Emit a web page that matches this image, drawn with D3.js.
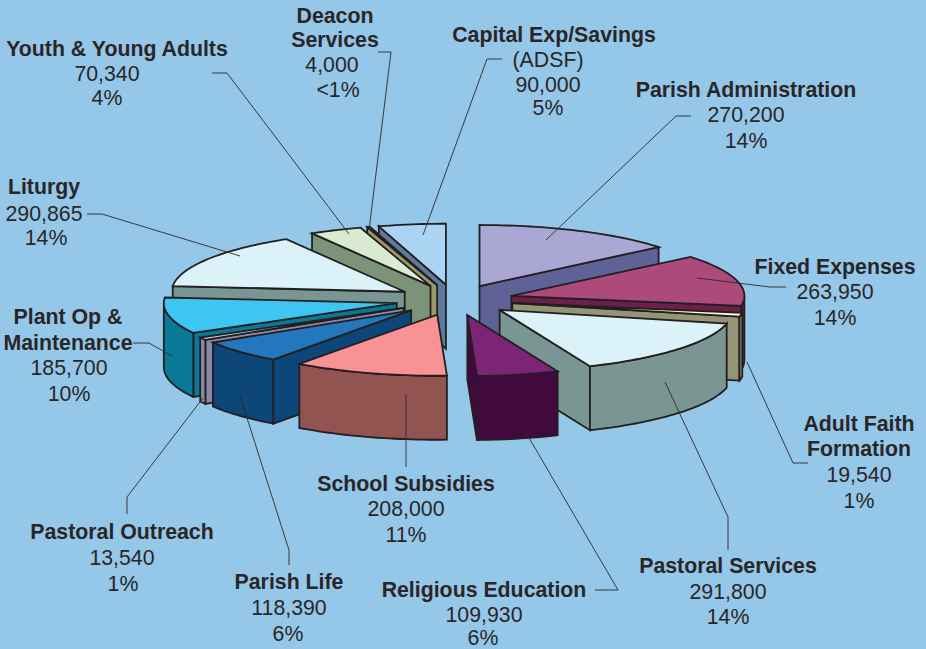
<!DOCTYPE html>
<html lang="en">
<head>
    <meta charset="UTF-8">
    <title>Parish budget</title>
    <script src="https://d3js.org/d3.v7.min.js"></script>
    <style>
        html, body { margin: 0; padding: 0; background: #94c7e8; }
        svg { display: block; }
        .face { stroke: #231f20; stroke-width: 1.8px; stroke-linejoin: miter; }
        .leader { fill: none; stroke: #2d2a2b; stroke-width: 0.9px; }
        text { font-family: "Liberation Sans", Arial, sans-serif; font-size: 21.3px; fill: #2a2627; text-anchor: middle; }
        text.name { font-weight: bold; }
    </style>
</head>
<body>
    <div id="chart"></div>

    <script>
        // clockwise from 12 o'clock
        const categories = ["Parish Administration", "Fixed Expenses", "Adult Faith Formation", "Pastoral Services",
            "Religious Education", "School Subsidies", "Parish Life", "Pastoral Outreach", "Plant Op & Maintenance",
            "Liturgy", "Youth & Young Adults", "Deacon Services", "Capital Exp/Savings"];
        const values = [270200, 263950, 19540, 291800, 109930, 208000, 118390, 13540, 185700, 290865, 70340, 4000, 90000];
        const percents = ["14%", "14%", "1%", "14%", "6%", "11%", "6%", "1%", "10%", "14%", "4%", "<1%", "5%"];

        const topColors = ["#aaa7d4", "#ac4a7b", "#fdf8d6", "#dbf2f9", "#7d2477", "#f89294", "#2277bd", "#cfcde4", "#3dc6f1", "#dbf2f9", "#d8ebd0", "#efeccb", "#abd3f2"];
        const wallColors = ["#5f6296", "#6b2048", "#949476", "#7a9692", "#42093f", "#925450", "#0d4779", "#8b8aa8", "#087a96", "#7a9692", "#7c9378", "#9b9a6a", "#5f7b9c"];

        // painter's order, back slices first
        const drawOrder = [12, 11, 10, 9, 8, 7, 6, 5, 0, 1, 2, 3, 4];

        // name lines, then value and percent; each line has its own centre x and baseline
        const nameLines = [["Parish Administration"], ["Fixed Expenses"], ["Adult Faith", "Formation"], ["Pastoral Services"],
            ["Religious Education"], ["School Subsidies"], ["Parish Life"], ["Pastoral Outreach"], ["Plant Op &", "Maintenance"],
            ["Liturgy"], ["Youth & Young Adults"], ["Deacon", "Services"], ["Capital Exp/Savings"]];
        const noteLines = { 12: "(ADSF)" };
        const labelPos = [
            [[746, 97], [746, 122], [746, 148]],
            [[835, 274], [835, 299], [835, 325]],
            [[859, 431], [859, 456], [859, 482], [859, 508]],
            [[728, 573], [728, 599], [728, 624]],
            [[484, 597], [484, 622], [483, 645]],
            [[406, 491], [406, 516], [406, 542]],
            [[289, 589], [289, 615], [288, 641]],
            [[122, 539], [122, 565], [123, 591]],
            [[68, 324], [68, 350], [69, 375], [69, 401]],
            [[44, 194], [44, 221], [46, 245]],
            [[117, 56], [107, 81], [107, 105]],
            [[335, 23], [335, 47], [332, 72], [338, 97]],
            [[554, 42], [548, 67], [548, 92], [548, 115]]
        ];
        const leaders = [
            [[691, 116], [676, 116], [546, 240]],
            [[786, 287], [770, 287], [697, 278]],
            [[808, 463], [793, 463], [747, 362]],
            [[728, 550], [728, 517], [665, 382]],
            [[595, 590], [618, 590], [518, 419]],
            [[406, 467], [406, 394]],
            [[289, 565], [289, 550], [240, 396]],
            [[127, 514], [127, 497], [203, 398]],
            [[133, 343], [149, 343], [172, 356]],
            [[87, 214], [102, 214], [240, 256]],
            [[212, 73], [227, 73], [349, 234]],
            [[378, 52], [391, 52], [369, 230]],
            [[502, 59], [487, 59], [423, 235]]
        ];

        const width = 926, height = 649;
        const cx = 454.5, cy = 300, rx = 233, ry = 61, depth = 64, explode = 0.253;

        const x = d3.scaleLinear().domain([-1, 1]).range([cx - rx, cx + rx]);
        const y = d3.scaleLinear().domain([-1, 1]).range([cy - ry, cy + ry]);
        const line = d3.line();

        const arcs = d3.pie().sort(null).startAngle(0).endAngle(2 * Math.PI)(values);

        function point(d, r, a, drop) {
            const m = (d.startAngle + d.endAngle) / 2;
            return [x(explode * Math.sin(m) + r * Math.sin(a)),
                    y(-explode * Math.cos(m) - r * Math.cos(a)) + drop];
        }

        function rim(d, a0, a1, drop) {
            const n = Math.max(2, Math.ceil((a1 - a0) * 40));
            return d3.range(n + 1).map(i => point(d, 1, a0 + (a1 - a0) * i / n, drop));
        }

        function radialWall(d, a) {
            return [point(d, 0, 0, 0), point(d, 1, a, 0), point(d, 1, a, depth), point(d, 0, 0, depth)];
        }

        function closed(points) { return line(points) + "Z"; }

        const svg = d3.select("#chart").append("svg")
            .attr("width", width)
            .attr("height", height);

        svg.append("rect").attr("width", width).attr("height", height).attr("fill", "#94c7e8");

        const slices = svg.selectAll(".slice")
            .data(drawOrder.map(i => arcs[i]))
            .enter().append("g")
            .attr("class", "slice");

        slices.each(function (d) {
            const g = d3.select(this);
            const walls = [];
            if (Math.sin(d.startAngle) < -1e-6) walls.push(radialWall(d, d.startAngle));
            if (Math.sin(d.endAngle) > 1e-6) walls.push(radialWall(d, d.endAngle));

            const a0 = Math.max(d.startAngle, Math.PI / 2), a1 = Math.min(d.endAngle, 3 * Math.PI / 2);
            if (a1 > a0) walls.push(rim(d, a0, a1, 0).concat(rim(d, a0, a1, depth).reverse()));

            walls.forEach(w => g.append("path").attr("class", "face")
                .attr("d", closed(w))
                .attr("fill", wallColors[d.index]));

            g.append("path").attr("class", "face")
                .attr("d", closed([point(d, 0, 0, 0)].concat(rim(d, d.startAngle, d.endAngle, 0))))
                .attr("fill", topColors[d.index]);
        });

        svg.selectAll(".leader")
            .data(leaders)
            .enter().append("path")
            .attr("class", "leader")
            .attr("d", d => line(d));

        const fmt = d3.format(",");
        categories.forEach((c, i) => {
            const lines = nameLines[i].map(t => ({ t, bold: true }));
            if (noteLines[i]) lines.push({ t: noteLines[i], bold: false });
            lines.push({ t: fmt(values[i]), bold: false }, { t: percents[i], bold: false });
            svg.append("g").attr("data-name", c).selectAll("text")
                .data(lines)
                .enter().append("text")
                .attr("class", d => d.bold ? "name" : null)
                .attr("x", (d, j) => labelPos[i][j][0])
                .attr("y", (d, j) => labelPos[i][j][1])
                .text(d => d.t);
        });
    </script>
</body>
</html>
